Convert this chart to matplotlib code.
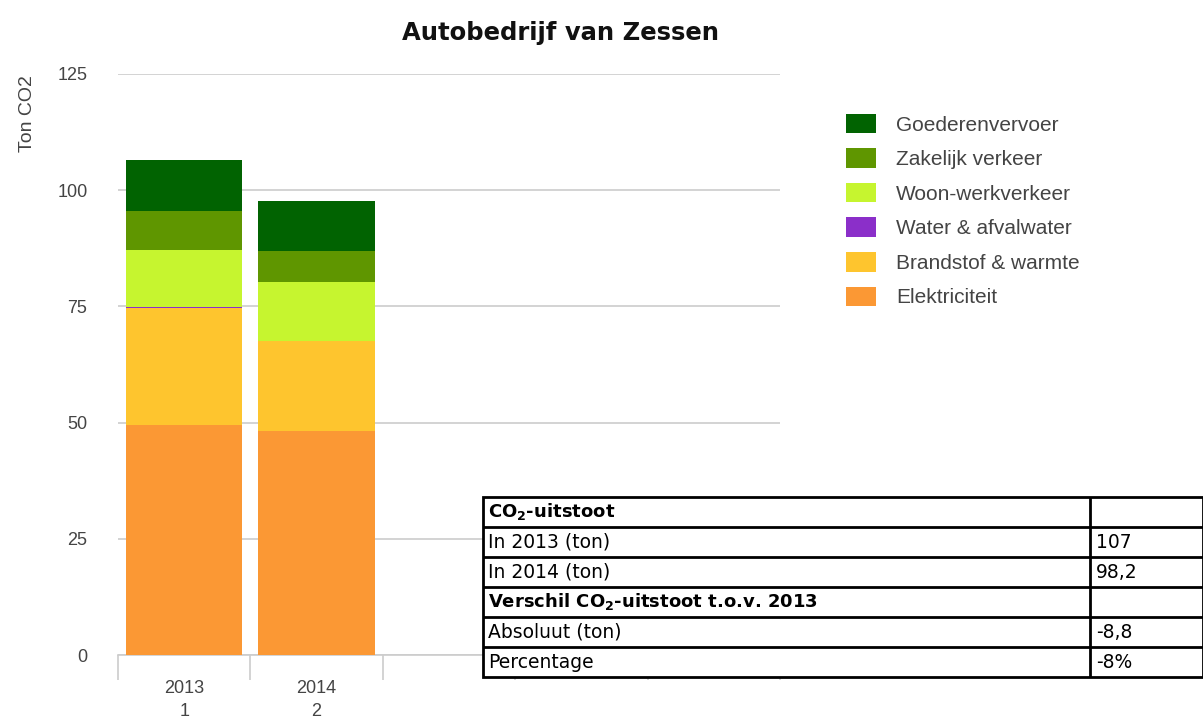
import matplotlib.pyplot as plt
import numpy as np

# chart data (ton CO2)
years = ["2013\n1", "2014\n2"]
elektriciteit = [49.4, 48.2]
brandstof = [25.2, 19.4]
water = [0.2, 0.0]
woon_werk = [12.3, 12.7]
zakelijk = [8.4, 6.6]
goederen = [11.0, 10.8]

series_names = ["Elektriciteit", "Brandstof & warmte", "Water & afvalwater",
                "Woon-werkverkeer", "Zakelijk verkeer", "Goederenvervoer"]
series_colors = ["#fb9834", "#fec52e", "#8b2fc9", "#c6f52f", "#5f9600", "#016301"]

# table data
table_labels = [r"CO$_\mathbf{2}$-uitstoot", "In 2013 (ton)", "In 2014 (ton)",
                r"Verschil CO$_\mathbf{2}$-uitstoot t.o.v. 2013", "Absoluut (ton)", "Percentage"]
table_values = ["", "107", "98,2", "", "-8,8", "-8%"]
table_bold = [True, False, False, True, False, False]

W, H = 1203, 722
fig = plt.figure(figsize=(W / 100, H / 100), dpi=100)
fig.patch.set_facecolor("white")
chart_font = "Liberation Sans"

ax = fig.add_axes([118 / W, 1 - 655 / H, 662 / W, 581 / H])
x = np.arange(len(years))
bottom = np.zeros(len(years))
handles = []
for name, vals, col in zip(series_names,
                           [elektriciteit, brandstof, water, woon_werk, zakelijk, goederen],
                           series_colors):
    b = ax.bar(x, vals, width=0.88, bottom=bottom, color=col, label=name, zorder=3)
    handles.append(b)
    bottom += np.array(vals)

ax.set_xlim(-0.5, 4.5)
ax.set_ylim(0, 125)
ax.set_yticks([0, 25, 50, 75, 100, 125])
ax.grid(axis="y", color="#cccccc", linewidth=1.2, zorder=0)
for s in ["top", "right", "left"]:
    ax.spines[s].set_visible(False)
ax.spines["bottom"].set_color("#cccccc")
ax.spines["bottom"].set_linewidth(1.2)
ax.tick_params(axis="y", length=0, pad=22)
for t in ax.get_yticklabels():
    t.set_fontsize(13)
    t.set_color("#444444")
    t.set_family(chart_font)

# category labels between boundary ticks
ax.set_xticks(x)
ax.set_xticklabels(years, fontsize=13, color="#444444", linespacing=1.5,
                   family=chart_font)
ax.tick_params(axis="x", length=0, pad=18)
ax.set_xticks(np.arange(-0.5, 5.0, 1.0), minor=True)
ax.tick_params(axis="x", which="minor", length=18, color="#cccccc", width=1.2)

fig.text(28 / W, 1 - 114 / H, "Ton CO2", rotation=90, fontsize=14,
         color="#444444", ha="center", va="center", family=chart_font)
fig.text(560 / W, 1 - 33 / H, "Autobedrijf van Zessen", fontsize=17.5,
         fontweight="bold", color="#111111", ha="center", va="center",
         family="DejaVu Sans")

leg = fig.legend(handles[::-1], series_names[::-1], loc="upper left",
                 bbox_to_anchor=(827 / W, 1 - 95 / H), frameon=False,
                 prop={"family": chart_font, "size": 15},
                 handlelength=1.44, handleheight=1.06,
                 labelspacing=0.66, handletextpad=0.96)
for t in leg.get_texts():
    t.set_color("#444444")

# table overlay
tx0, ty0, ty1 = 483, 497, 677
tw = W - tx0
th = ty1 - ty0
tab = fig.add_axes([tx0 / W, 1 - ty1 / H, tw / W, th / H])
tab.set_xlim(0, tw)
tab.set_ylim(th, 0)
tab.axis("off")
tab.add_patch(plt.Rectangle((0, 0), tw, th, facecolor="white", edgecolor="black",
                            linewidth=2, clip_on=False, zorder=1))
row_h = th / len(table_labels)
col_x = 1090 - tx0
tab.plot([col_x, col_x], [0, th], color="black", linewidth=2, zorder=2)
for i, (lab, val, bold) in enumerate(zip(table_labels, table_values, table_bold)):
    if i > 0:
        tab.plot([0, tw], [i * row_h, i * row_h], color="black", linewidth=2, zorder=2)
    yc = (i + 0.5) * row_h
    tab.text(5, yc, lab, fontsize=13 if bold else 13.5,
             fontweight="bold" if bold else "normal",
             va="center", ha="left", family="DejaVu Sans", zorder=3)
    tab.text(col_x + 6, yc, val, fontsize=13.5, va="center", ha="left",
             family="DejaVu Sans", zorder=3)

fig.savefig("out.png", dpi=100)
